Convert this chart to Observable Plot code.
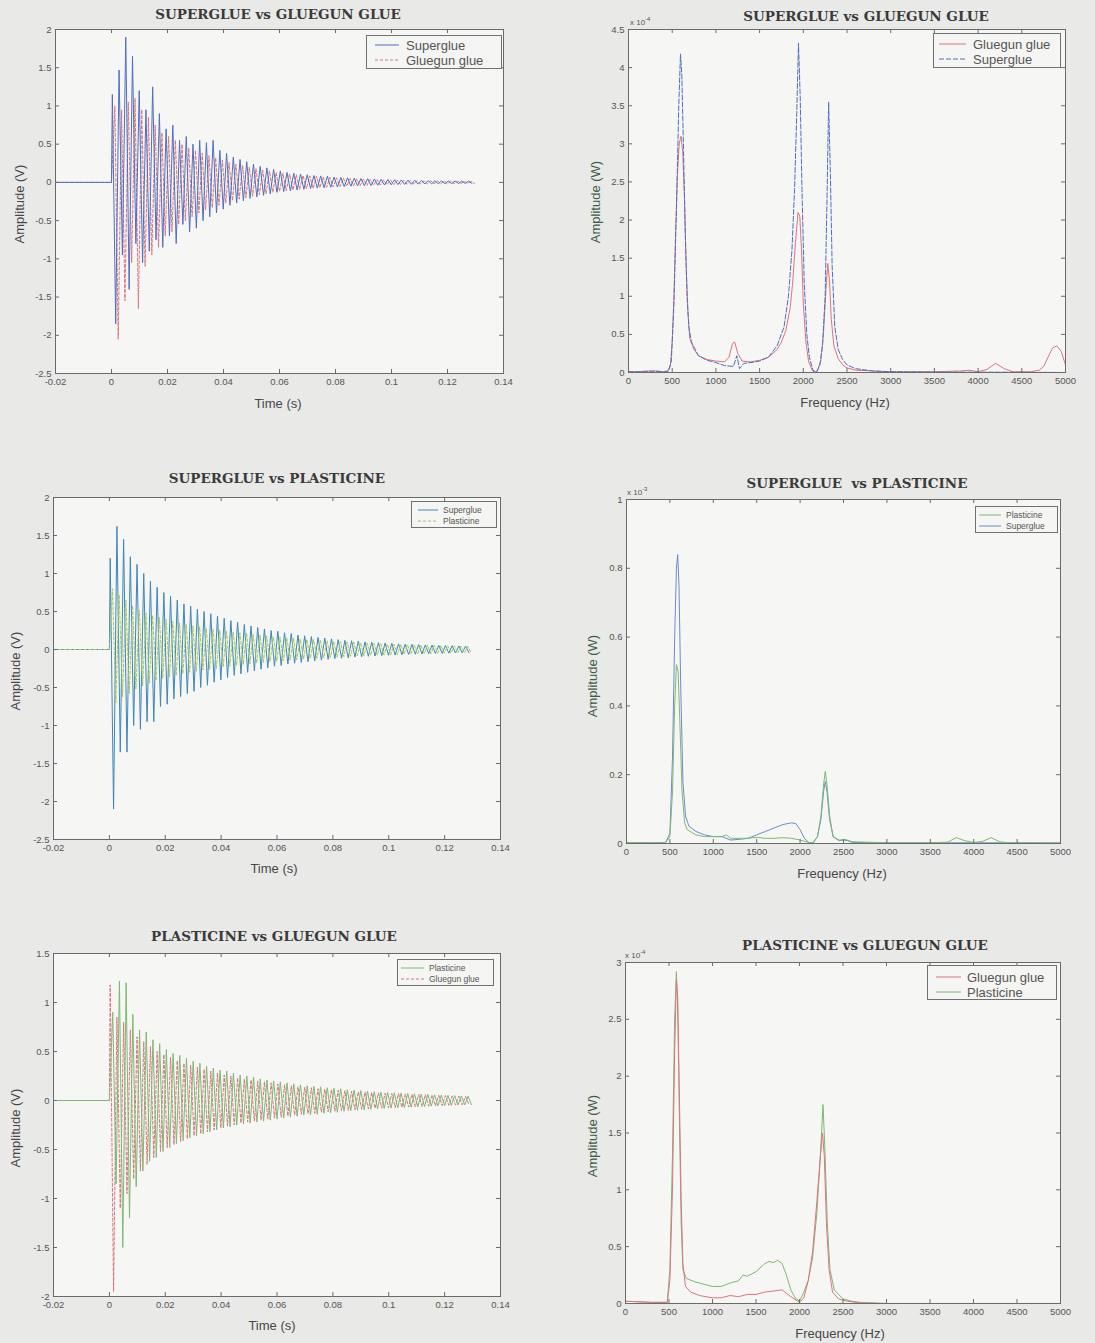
<!DOCTYPE html>
<html><head><meta charset="utf-8">
<script src="https://cdn.jsdelivr.net/npm/d3@7"></script>
<script src="https://cdn.jsdelivr.net/npm/@observablehq/plot@0.6"></script>
<style>
html,body{margin:0;padding:0}
body{background:#e9e9e7;width:1095px;height:1343px;position:relative;overflow:hidden;font-family:"Liberation Sans",Arial,sans-serif}
.pn{position:absolute}
.title{position:absolute;font-family:"DejaVu Serif",serif;font-weight:bold;font-size:13.5px;line-height:1;color:#3a3a3a;transform:translateX(-50%);white-space:pre}
.xl{position:absolute;font-size:13px;line-height:1;color:#474747;transform:translateX(-50%);white-space:nowrap}
.yl{position:absolute;font-size:13px;line-height:1;color:#474747;transform:translate(-50%,-50%) rotate(-90deg);white-space:nowrap}
.yl.w{color:#3d5c45}
.exp{position:absolute;font-size:8px;line-height:1;color:#555;white-space:nowrap}
.exp sup{font-size:6px}
.leg{position:absolute;border:1px solid #707070;background:#f5f5f3;box-sizing:border-box}
.leg span{position:absolute;line-height:1;color:#555;white-space:nowrap;transform:translateY(-50%)}
.leg svg{position:absolute;overflow:visible}
</style>
</head><body>
<script>
// ---------------- DATA ----------------
// Time-domain signals: one upper and one lower extreme per oscillation cycle (V)
const cyclePeriod = 0.0024;           // s, spacing of the oscillation
const preTrigger = [[-0.02, 0], [0, 0]];

// Panel 1: SUPERGLUE vs GLUEGUN GLUE (time)
const p1SuperglueStart = 0.0003;
const p1SuperglueHi = [1.15,1.47,1.90,1.65,1.20,0.95,1.25,0.90,0.70,0.75,0.55,0.60,0.50,0.55,0.52,0.55,0.42,0.38,0.33,0.30,0.27,0.24,0.21,0.19,0.17,0.15,0.13,0.12,0.11,0.10,0.09,0.085,0.08,0.07,0.065,0.06,0.055,0.05,0.048,0.045,0.04,0.038,0.035,0.032,0.03,0.028,0.026,0.024,0.022,0.02,0.019,0.018,0.017,0.016];
const p1SuperglueLo = [-1.85,-0.95,-1.40,-0.80,-1.05,-0.90,-0.75,-0.85,-0.70,-0.80,-0.55,-0.65,-0.60,-0.50,-0.45,-0.40,-0.35,-0.30,-0.27,-0.24,-0.21,-0.19,-0.17,-0.15,-0.13,-0.12,-0.11,-0.10,-0.09,-0.08,-0.075,-0.07,-0.065,-0.06,-0.055,-0.05,-0.045,-0.042,-0.04,-0.037,-0.034,-0.031,-0.029,-0.027,-0.025,-0.023,-0.021,-0.02,-0.018,-0.017,-0.016,-0.015,-0.014,-0.013];
const p1GluegunStart = 0.0012;
const p1GluegunHi = [1.00,0.95,1.05,1.10,0.95,0.85,0.75,0.65,0.60,0.55,0.50,0.45,0.42,0.38,0.35,0.32,0.29,0.26,0.24,0.22,0.20,0.18,0.16,0.15,0.13,0.12,0.11,0.10,0.09,0.085,0.08,0.07,0.065,0.06,0.055,0.05,0.047,0.044,0.04,0.037,0.034,0.032,0.03,0.028,0.026,0.024,0.022,0.021,0.02,0.019,0.018,0.017,0.016,0.015];
const p1GluegunLo = [-2.05,-1.55,-1.05,-1.65,-1.10,-0.95,-0.85,-0.70,-0.65,-0.55,-0.50,-0.45,-0.40,-0.36,-0.33,-0.30,-0.27,-0.24,-0.22,-0.20,-0.18,-0.16,-0.15,-0.13,-0.12,-0.11,-0.10,-0.09,-0.085,-0.08,-0.07,-0.065,-0.06,-0.055,-0.05,-0.046,-0.043,-0.04,-0.037,-0.034,-0.031,-0.029,-0.027,-0.025,-0.023,-0.021,-0.02,-0.019,-0.018,-0.017,-0.016,-0.015,-0.014,-0.013];

// Panel 3: SUPERGLUE vs PLASTICINE (time)
const p3SuperglueStart = 0.0003;
const p3SuperglueHi = [1.20,1.62,1.45,1.22,1.12,1.00,0.90,0.82,0.75,0.70,0.65,0.60,0.57,0.53,0.50,0.47,0.44,0.41,0.38,0.36,0.33,0.31,0.29,0.27,0.25,0.24,0.22,0.21,0.19,0.18,0.17,0.16,0.15,0.14,0.13,0.12,0.115,0.11,0.10,0.095,0.09,0.085,0.08,0.075,0.07,0.068,0.065,0.06,0.058,0.055,0.052,0.05,0.047,0.045];
const p3SuperglueLo = [-2.10,-1.35,-1.35,-1.00,-1.05,-0.95,-0.95,-0.75,-0.72,-0.65,-0.62,-0.58,-0.55,-0.50,-0.47,-0.43,-0.40,-0.37,-0.34,-0.32,-0.30,-0.28,-0.26,-0.24,-0.22,-0.21,-0.19,-0.18,-0.17,-0.16,-0.15,-0.14,-0.13,-0.12,-0.115,-0.11,-0.10,-0.095,-0.09,-0.085,-0.08,-0.076,-0.072,-0.068,-0.065,-0.062,-0.058,-0.055,-0.052,-0.05,-0.048,-0.046,-0.044,-0.042];
const p3PlasticineStart = 0.0011;
const p3PlasticineHi = [0.80,0.72,0.65,0.58,0.52,0.48,0.45,0.42,0.40,0.37,0.35,0.33,0.31,0.30,0.28,0.27,0.25,0.24,0.23,0.22,0.21,0.20,0.19,0.18,0.17,0.16,0.155,0.15,0.14,0.135,0.13,0.12,0.115,0.11,0.105,0.10,0.095,0.09,0.085,0.08,0.078,0.075,0.07,0.068,0.065,0.062,0.06,0.058,0.055,0.052,0.05,0.048,0.045,0.042];
const p3PlasticineLo = [-0.70,-0.62,-0.58,-0.52,-0.48,-0.44,-0.41,-0.38,-0.36,-0.34,-0.32,-0.30,-0.29,-0.27,-0.26,-0.25,-0.23,-0.22,-0.21,-0.20,-0.19,-0.18,-0.17,-0.16,-0.155,-0.15,-0.14,-0.135,-0.13,-0.12,-0.115,-0.11,-0.105,-0.10,-0.095,-0.09,-0.085,-0.082,-0.078,-0.075,-0.072,-0.07,-0.067,-0.064,-0.062,-0.06,-0.057,-0.055,-0.052,-0.05,-0.048,-0.046,-0.044,-0.042];

// Panel 5: PLASTICINE vs GLUEGUN GLUE (time)
const p5PlasticineStart = 0.0012;
const p5PlasticineHi = [0.90,1.22,1.20,0.88,0.72,0.70,0.62,0.58,0.52,0.48,0.46,0.43,0.40,0.38,0.35,0.33,0.31,0.30,0.28,0.26,0.25,0.24,0.22,0.21,0.20,0.19,0.18,0.17,0.16,0.15,0.145,0.14,0.13,0.125,0.12,0.11,0.105,0.10,0.095,0.09,0.085,0.082,0.078,0.075,0.072,0.068,0.065,0.062,0.058,0.055,0.052,0.05,0.047,0.045];
const p5PlasticineLo = [-0.85,-1.50,-1.20,-0.88,-0.72,-0.62,-0.58,-0.52,-0.48,-0.44,-0.41,-0.38,-0.36,-0.34,-0.32,-0.30,-0.28,-0.27,-0.25,-0.24,-0.23,-0.22,-0.21,-0.20,-0.19,-0.18,-0.17,-0.16,-0.15,-0.145,-0.14,-0.13,-0.125,-0.12,-0.11,-0.105,-0.10,-0.095,-0.09,-0.085,-0.082,-0.078,-0.075,-0.072,-0.068,-0.065,-0.062,-0.058,-0.055,-0.052,-0.05,-0.047,-0.045,-0.042];
const p5GluegunStart = 0.0003;
const p5GluegunHi = [1.18,0.85,0.80,0.72,0.65,0.60,0.55,0.50,0.47,0.44,0.41,0.38,0.36,0.34,0.32,0.30,0.28,0.26,0.25,0.23,0.22,0.21,0.20,0.19,0.18,0.17,0.16,0.15,0.14,0.135,0.13,0.12,0.115,0.11,0.105,0.10,0.095,0.09,0.085,0.08,0.078,0.075,0.072,0.07,0.067,0.064,0.061,0.058,0.055,0.052,0.05,0.047,0.045,0.042];
const p5GluegunLo = [-1.95,-1.10,-0.95,-0.80,-0.72,-0.65,-0.58,-0.52,-0.48,-0.45,-0.42,-0.39,-0.36,-0.34,-0.32,-0.30,-0.28,-0.26,-0.25,-0.23,-0.22,-0.21,-0.20,-0.19,-0.18,-0.17,-0.16,-0.15,-0.14,-0.135,-0.13,-0.12,-0.115,-0.11,-0.105,-0.10,-0.095,-0.09,-0.085,-0.08,-0.078,-0.075,-0.072,-0.07,-0.067,-0.064,-0.061,-0.058,-0.055,-0.052,-0.05,-0.047,-0.045,-0.042];

// Spectra: [frequency (Hz), amplitude in units of the axis multiplier]
// Panel 2 (x 10^-4 W)
const p2Gluegun = [[0,0.01],[100,0.01],[200,0.02],[300,0.02],[400,0.01],[450,0.02],[480,0.1],[500,0.4],[520,1.0],[540,1.9],[560,2.6],[580,3.0],[600,3.1],[620,2.9],[640,2.3],[660,1.4],[680,0.8],[700,0.45],[750,0.3],[800,0.22],[900,0.17],[1000,0.15],[1100,0.14],[1150,0.2],[1190,0.38],[1215,0.4],[1250,0.25],[1300,0.15],[1400,0.14],[1500,0.16],[1600,0.2],[1700,0.3],[1750,0.4],[1800,0.55],[1850,0.85],[1880,1.2],[1910,1.7],[1940,2.1],[1960,2.05],[1980,1.6],[2000,0.9],[2030,0.4],[2060,0.15],[2100,0.03],[2130,0.0],[2160,0.02],[2200,0.15],[2230,0.5],[2260,1.1],[2280,1.43],[2300,1.2],[2320,0.7],[2350,0.35],[2400,0.18],[2450,0.1],[2500,0.06],[2600,0.03],[2800,0.02],[3000,0.01],[3500,0.01],[3800,0.02],[3900,0.03],[4000,0.01],[4100,0.04],[4200,0.12],[4300,0.05],[4400,0.01],[4600,0.01],[4700,0.03],[4750,0.08],[4800,0.2],[4850,0.32],[4900,0.35],[4950,0.28],[5000,0.1]];
const p2Superglue = [[0,0.01],[200,0.01],[300,0.02],[400,0.01],[460,0.02],[490,0.15],[520,0.9],[550,2.2],[575,3.5],[595,4.18],[610,3.9],[630,2.9],[650,1.8],[670,1.0],[690,0.6],[720,0.4],[800,0.22],[900,0.16],[1000,0.13],[1100,0.09],[1200,0.08],[1240,0.22],[1270,0.05],[1320,0.12],[1400,0.13],[1500,0.15],[1600,0.2],[1700,0.35],[1780,0.6],[1830,1.0],[1870,1.6],[1900,2.4],[1925,3.4],[1945,4.32],[1965,3.6],[1985,2.4],[2010,1.2],[2040,0.5],[2070,0.2],[2110,0.03],[2150,0.0],[2190,0.1],[2220,0.35],[2250,1.0],[2270,2.2],[2290,3.55],[2310,2.6],[2330,1.4],[2360,0.6],[2400,0.3],[2450,0.17],[2500,0.1],[2600,0.05],[2800,0.02],[3000,0.01],[3500,0.005],[4000,0.005],[5000,0.0]];
// Panel 4 (x 10^-3 W)
const p4Plasticine = [[0,0.003],[300,0.002],[450,0.003],[500,0.02],[530,0.15],[555,0.4],[575,0.52],[595,0.5],[615,0.35],[640,0.15],[670,0.06],[700,0.04],[800,0.025],[900,0.02],[1000,0.02],[1100,0.02],[1150,0.025],[1200,0.015],[1300,0.015],[1400,0.015],[1500,0.018],[1600,0.015],[1700,0.015],[1800,0.017],[1900,0.015],[2000,0.01],[2100,0.003],[2150,0.002],[2200,0.02],[2240,0.08],[2270,0.17],[2290,0.21],[2310,0.17],[2340,0.08],[2380,0.02],[2450,0.01],[2520,0.012],[2600,0.005],[3000,0.002],[3500,0.002],[3700,0.004],[3800,0.017],[3900,0.008],[4000,0.003],[4100,0.006],[4200,0.017],[4300,0.005],[4400,0.002],[4700,0.002],[5000,0.002]];
const p4Superglue = [[0,0.002],[450,0.002],[500,0.03],[530,0.25],[555,0.6],[575,0.8],[590,0.84],[605,0.75],[625,0.45],[650,0.18],[680,0.08],[720,0.05],[800,0.035],[900,0.025],[1000,0.02],[1100,0.02],[1200,0.01],[1300,0.012],[1400,0.015],[1500,0.025],[1600,0.035],[1700,0.045],[1800,0.055],[1900,0.06],[1950,0.058],[2000,0.04],[2050,0.015],[2100,0.003],[2150,0.002],[2200,0.02],[2240,0.07],[2270,0.15],[2290,0.18],[2310,0.15],[2340,0.07],[2380,0.02],[2450,0.008],[2500,0.01],[2550,0.008],[2600,0.003],[3000,0.002],[4600,0.002],[5000,0.001]];
// Panel 6 (x 10^-4 W)
const p6Gluegun = [[0,0.02],[300,0.01],[480,0.01],[510,0.2],[540,1.0],[565,2.2],[585,2.85],[600,2.7],[620,1.8],[640,0.9],[660,0.35],[690,0.15],[750,0.1],[850,0.07],[1000,0.05],[1100,0.05],[1200,0.07],[1300,0.06],[1400,0.08],[1500,0.08],[1600,0.1],[1700,0.11],[1800,0.12],[1900,0.06],[2000,0.01],[2050,0.05],[2100,0.2],[2150,0.45],[2200,0.9],[2240,1.3],[2265,1.5],[2285,1.3],[2310,0.7],[2340,0.3],[2380,0.1],[2450,0.04],[2550,0.02],[2700,0.005],[3000,0.0],[5000,0.0]];
const p6Plasticine = [[0,0.02],[300,0.01],[480,0.01],[510,0.3],[540,1.3],[565,2.5],[585,2.92],[600,2.6],[620,1.6],[640,0.7],[660,0.3],[700,0.22],[800,0.19],[900,0.17],[1000,0.15],[1100,0.15],[1200,0.18],[1300,0.2],[1350,0.25],[1400,0.24],[1500,0.28],[1600,0.35],[1650,0.37],[1700,0.36],[1750,0.38],[1800,0.35],[1850,0.25],[1900,0.12],[1950,0.05],[2000,0.02],[2050,0.1],[2100,0.2],[2150,0.4],[2200,0.8],[2240,1.3],[2270,1.75],[2290,1.4],[2320,0.7],[2350,0.3],[2400,0.12],[2500,0.04],[2600,0.02],[2700,0.01],[3000,0.0],[5000,0.0]];

// Axis ticks
const timeTicks = [-0.02,0,0.02,0.04,0.06,0.08,0.1,0.12,0.14];
const voltTicks25 = [-2.5,-2,-1.5,-1,-0.5,0,0.5,1,1.5,2];
const voltTicks15 = [-2,-1.5,-1,-0.5,0,0.5,1,1.5];
const freqTicks = [0,500,1000,1500,2000,2500,3000,3500,4000,4500,5000];
const p2Ticks = [0,0.5,1,1.5,2,2.5,3,3.5,4,4.5];
const p4Ticks = [0,0.2,0.4,0.6,0.8,1];
const p6Ticks = [0,0.5,1,1.5,2,2.5,3];

// Colours
const C = {blue:"#4f6fbf", red:"#dc7480", green:"#7fb872", teal:"#3f86b8", lime:"#a3c95a", blue2:"#6d8ccc"};

// ---------------- DRAWING ----------------
function wave(start, hi, lo) {
  const pts = preTrigger.slice();
  hi.forEach((h, i) => {
    pts.push([start + i * cyclePeriod, h]);
    pts.push([start + i * cyclePeriod + cyclePeriod / 2, lo[i]]);
  });
  return pts;
}
const fmt = d => String(+(+d).toFixed(4));

function addDiv(cls, html, style) {
  const d = document.createElement("div");
  d.className = cls; d.innerHTML = html;
  Object.assign(d.style, style);
  document.body.appendChild(d);
  return d;
}

function panel(cfg) {
  const [W, H] = cfg.size, [mt, mr, mb, ml] = cfg.margins;
  const fw = W - ml - mr, fh = H - mt - mb;
  const marks = [Plot.frame({fill: "#f6f6f4"})];
  for (const s of cfg.series) {
    marks.push(Plot.line(s.data, {x: d => d[0], y: d => d[1], stroke: s.color, strokeWidth: s.width || 1, strokeDasharray: s.dash || null, clip: true}));
  }
  marks.push(
    Plot.frame({stroke: "#6a6a6a", strokeWidth: 1}),
    Plot.axisX({ticks: cfg.xTicks, tickSize: 0, tickPadding: 5, tickFormat: fmt}),
    Plot.axisY({ticks: cfg.yTicks, tickSize: 0, tickPadding: 4, tickFormat: fmt}),
    Plot.tickX(cfg.xTicks, {x: d => d, insetTop: fh - 4, stroke: "#6a6a6a"}),
    Plot.tickX(cfg.xTicks, {x: d => d, insetBottom: fh - 4, stroke: "#6a6a6a"}),
    Plot.tickY(cfg.yTicks, {y: d => d, insetRight: fw - 4, stroke: "#6a6a6a"}),
    Plot.tickY(cfg.yTicks, {y: d => d, insetLeft: fw - 4, stroke: "#6a6a6a"})
  );
  const svg = Plot.plot({
    width: W, height: H,
    marginTop: mt, marginRight: mr, marginBottom: mb, marginLeft: ml,
    x: {domain: cfg.xDomain, label: null},
    y: {domain: cfg.yDomain, label: null},
    style: {background: "transparent", fontSize: "9.5px", fontFamily: "'Liberation Sans', Arial, sans-serif", color: "#555", overflow: "visible"},
    marks
  });
  const holder = addDiv("pn", "", {left: cfg.pos[0] + "px", top: cfg.pos[1] + "px"});
  holder.appendChild(svg);
  addDiv("title", cfg.title, {left: cfg.titlePos[0] + "px", top: cfg.titlePos[1] + "px"});
  addDiv("xl", cfg.xlabel, {left: cfg.xlabelPos[0] + "px", top: cfg.xlabelPos[1] + "px"});
  addDiv("yl" + (cfg.ylabel.includes("W") ? " w" : ""), cfg.ylabel, {left: cfg.ylabelPos[0] + "px", top: cfg.ylabelPos[1] + "px"});
  if (cfg.exp) addDiv("exp", "x 10<sup>" + cfg.exp[0] + "</sup>", {left: cfg.exp[1] + "px", top: cfg.exp[2] + "px"});
  // legend
  const L = cfg.legend;
  const box = addDiv("leg", "", {left: L.box[0] + "px", top: L.box[1] + "px", width: L.box[2] + "px", height: L.box[3] + "px"});
  L.items.forEach((it, i) => {
    const y = L.rows[i];
    const ns = "http://www.w3.org/2000/svg";
    const sv = document.createElementNS(ns, "svg");
    sv.setAttribute("width", L.line[1] - L.line[0]); sv.setAttribute("height", 2);
    sv.style.left = L.line[0] + "px"; sv.style.top = (y - 1) + "px";
    const ln = document.createElementNS(ns, "line");
    ln.setAttribute("x1", 0); ln.setAttribute("x2", L.line[1] - L.line[0]);
    ln.setAttribute("y1", 1); ln.setAttribute("y2", 1);
    ln.setAttribute("stroke", it.color); ln.setAttribute("stroke-width", 1);
    if (it.dash) ln.setAttribute("stroke-dasharray", it.dash);
    sv.appendChild(ln); box.appendChild(sv);
    const sp = document.createElement("span");
    sp.textContent = it.label;
    Object.assign(sp.style, {left: L.textX + "px", top: y + "px", fontSize: L.font + "px"});
    box.appendChild(sp);
  });
}

// Panel 1
panel({
  pos: [0, 0], size: [520, 420], margins: [29, 17, 47, 55],
  xDomain: [-0.02, 0.14], yDomain: [-2.5, 2], xTicks: timeTicks, yTicks: voltTicks25,
  series: [
    {data: wave(p1GluegunStart, p1GluegunHi, p1GluegunLo), color: C.red, dash: "3,2"},
    {data: wave(p1SuperglueStart, p1SuperglueHi, p1SuperglueLo), color: C.blue}
  ],
  title: "SUPERGLUE vs GLUEGUN GLUE", titlePos: [278, 8],
  xlabel: "Time (s)", xlabelPos: [278, 397],
  ylabel: "Amplitude (V)", ylabelPos: [19, 204],
  legend: {box: [366, 35, 136, 34], rows: [9, 24], line: [8, 32], textX: 39, font: 13,
    items: [{label: "Superglue", color: C.blue}, {label: "Gluegun glue", color: C.red, dash: "3,2"}]}
});

// Panel 2
panel({
  pos: [560, 0], size: [530, 420], margins: [29, 25, 48, 68],
  xDomain: [0, 5000], yDomain: [0, 4.5], xTicks: freqTicks, yTicks: p2Ticks,
  series: [
    {data: p2Gluegun, color: C.red},
    {data: p2Superglue, color: C.blue, dash: "5,2"}
  ],
  title: "SUPERGLUE vs GLUEGUN GLUE", titlePos: [866, 10],
  xlabel: "Frequency (Hz)", xlabelPos: [845, 396],
  ylabel: "Amplitude (W)", ylabelPos: [595, 202],
  exp: ["-4", 630, 16],
  legend: {box: [933, 33, 128, 35], rows: [10, 25], line: [5, 32], textX: 39, font: 13,
    items: [{label: "Gluegun glue", color: C.red}, {label: "Superglue", color: C.blue, dash: "5,2"}]}
});

// Panel 3
panel({
  pos: [0, 460], size: [520, 430], margins: [37, 20, 51, 53],
  xDomain: [-0.02, 0.14], yDomain: [-2.5, 2], xTicks: timeTicks, yTicks: voltTicks25,
  series: [
    {data: wave(p3SuperglueStart, p3SuperglueHi, p3SuperglueLo), color: C.teal},
    {data: wave(p3PlasticineStart, p3PlasticineHi, p3PlasticineLo), color: C.lime, dash: "3,2"}
  ],
  title: "SUPERGLUE vs PLASTICINE", titlePos: [277, 472],
  xlabel: "Time (s)", xlabelPos: [274, 862],
  ylabel: "Amplitude (V)", ylabelPos: [15, 671],
  legend: {box: [411, 501, 86, 27], rows: [8, 19], line: [6, 26], textX: 31, font: 8.5,
    items: [{label: "Superglue", color: C.teal}, {label: "Plasticine", color: C.lime, dash: "3,2"}]}
});

// Panel 4
panel({
  pos: [560, 470], size: [530, 420], margins: [29, 30, 47, 66],
  xDomain: [0, 5000], yDomain: [0, 1], xTicks: freqTicks, yTicks: p4Ticks,
  series: [
    {data: p4Superglue, color: C.blue2},
    {data: p4Plasticine, color: C.green}
  ],
  title: "SUPERGLUE  vs PLASTICINE", titlePos: [857, 477],
  xlabel: "Frequency (Hz)", xlabelPos: [842, 867],
  ylabel: "Amplitude (W)", ylabelPos: [592, 676],
  exp: ["-3", 627, 486],
  legend: {box: [975, 506, 83, 27], rows: [8, 19], line: [3, 25], textX: 30, font: 8.5,
    items: [{label: "Plasticine", color: C.green}, {label: "Superglue", color: C.blue2}]}
});

// Panel 5
panel({
  pos: [0, 920], size: [520, 423], margins: [33, 20, 47, 53],
  xDomain: [-0.02, 0.14], yDomain: [-2, 1.5], xTicks: timeTicks, yTicks: voltTicks15,
  series: [
    {data: wave(p5GluegunStart, p5GluegunHi, p5GluegunLo), color: C.red, dash: "3,2"},
    {data: wave(p5PlasticineStart, p5PlasticineHi, p5PlasticineLo), color: C.green}
  ],
  title: "PLASTICINE vs GLUEGUN GLUE", titlePos: [274, 930],
  xlabel: "Time (s)", xlabelPos: [272, 1319],
  ylabel: "Amplitude (V)", ylabelPos: [15, 1128],
  legend: {box: [397, 959, 97, 27], rows: [8, 19], line: [3, 26], textX: 31, font: 8.5,
    items: [{label: "Plasticine", color: C.green}, {label: "Gluegun glue", color: C.red, dash: "3,2"}]}
});

// Panel 6
panel({
  pos: [560, 930], size: [530, 413], margins: [32, 30, 40, 65],
  xDomain: [0, 5000], yDomain: [0, 3], xTicks: freqTicks, yTicks: p6Ticks,
  series: [
    {data: p6Plasticine, color: C.green},
    {data: p6Gluegun, color: C.red}
  ],
  title: "PLASTICINE vs GLUEGUN GLUE", titlePos: [865, 939],
  xlabel: "Frequency (Hz)", xlabelPos: [840, 1327],
  ylabel: "Amplitude (W)", ylabelPos: [592, 1136],
  exp: ["-4", 625, 949],
  legend: {box: [927, 965, 130, 35], rows: [11, 26], line: [8, 33], textX: 39, font: 13,
    items: [{label: "Gluegun glue", color: C.red}, {label: "Plasticine", color: C.green}]}
});
</script>
</body></html>
